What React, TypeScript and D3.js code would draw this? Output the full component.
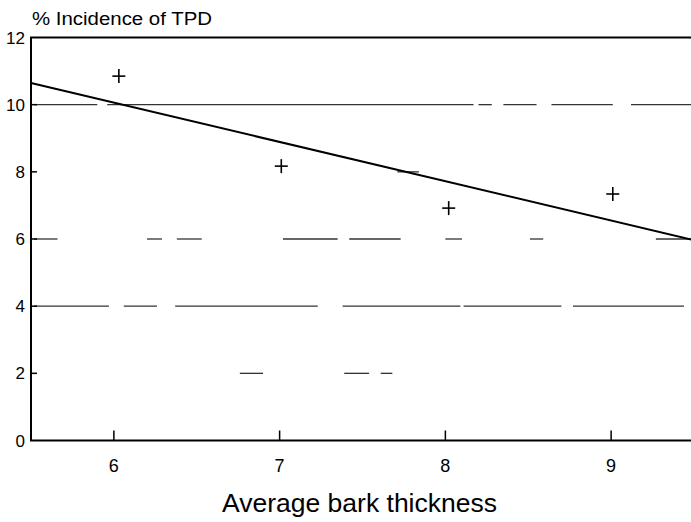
import React from "react";
import * as d3 from "d3";

// ---- data ----
const barkThickness = [6.03, 7.01, 8.02, 9.01];
const incidence = [10.85, 8.17, 6.92, 7.34];
const fitSlope = -1.17;
const fitIntercept = 17.08;
const xTicks = [6, 7, 8, 9];
const yTicks = [0, 2, 4, 6, 8, 10, 12];
// visible pieces of the (degraded) horizontal gridlines, in data units
const gridLevels = [10, 8, 6, 4, 2];
const gridPieces = [
  [[5.52, 5.9], [5.96, 8.17], [8.2, 8.28], [8.35, 8.55], [8.64, 9.01], [9.12, 9.5]],
  [[7.71, 7.84]],
  [[5.52, 5.66], [6.2, 6.29], [6.38, 6.53], [7.02, 7.35], [7.42, 7.73], [8.0, 8.1], [8.51, 8.59], [9.27, 9.5]],
  [[5.52, 5.97], [6.06, 6.26], [6.37, 7.23], [7.38, 8.09], [8.11, 8.7], [8.77, 9.44]],
  [[6.76, 6.9], [7.39, 7.54], [7.61, 7.68]],
];
const yTitle = "% Incidence of TPD";
const xTitle = "Average bark thickness";

const W = 691;
const H = 522;
const FONT = "'Liberation Sans', Arial, sans-serif";

export default function App() {
  const x = d3.scaleLinear().domain([5.5, 9.5]).range([31, 694]);
  const y = d3.scaleLinear().domain([0, 12]).range([440.5, 37.5]);
  const [x0, x1] = x.domain();
  const fit = d3
    .line<number>()
    .x((d) => x(d))
    .y((d) => y(fitIntercept + fitSlope * d));

  return (
    <svg
      width={W}
      height={H}
      style={{ position: "absolute", left: 0, top: 0, background: "#fff" }}
      fontFamily={FONT}
    >
      {/* gridline fragments */}
      {gridLevels.map((lv, i) =>
        gridPieces[i].map((p, j) => (
          <line
            key={`g${i}-${j}`}
            x1={x(p[0])}
            x2={x(p[1])}
            y1={y(lv)}
            y2={y(lv)}
            stroke="#333"
            strokeWidth={1.3}
          />
        ))
      )}

      {/* frame: left axis, bottom axis, top line */}
      <line x1={x(x0)} x2={x(x0)} y1={y(12)} y2={y(0)} stroke="#000" strokeWidth={2} />
      <line x1={x(x0) - 1} x2={W} y1={y(0)} y2={y(0)} stroke="#000" strokeWidth={2} />
      <line x1={x(x0) - 1} x2={W} y1={y(12)} y2={y(12)} stroke="#000" strokeWidth={2} />

      {/* y ticks */}
      {yTicks.map((t) => (
        <g key={`yt${t}`}>
          {t > 0 && t < 12 && (
            <line x1={x(x0)} x2={x(x0) + 6} y1={y(t)} y2={y(t)} stroke="#000" strokeWidth={1.5} />
          )}
          <text
            x={x(x0) - 6}
            y={y(t)}
            dy="0.36em"
            textAnchor="end"
            fontSize={17}
            fill="#000"
          >
            {t}
          </text>
        </g>
      ))}

      {/* x ticks */}
      {xTicks.map((t) => (
        <g key={`xt${t}`}>
          <line x1={x(t)} x2={x(t)} y1={y(0)} y2={y(0) - 10} stroke="#000" strokeWidth={1.5} />
          <text x={x(t)} y={y(0) + 31} textAnchor="middle" fontSize={18} fill="#000">
            {t}
          </text>
        </g>
      ))}

      {/* fitted line */}
      <path d={fit([x0, x1]) ?? ""} fill="none" stroke="#000" strokeWidth={2} />

      {/* points */}
      {barkThickness.map((bx, i) => {
        const cx = x(bx);
        const cy = y(incidence[i]);
        return (
          <g key={`p${i}`} stroke="#000" strokeWidth={1.6}>
            <line x1={cx - 6.5} x2={cx + 6.5} y1={cy} y2={cy} />
            <line x1={cx} x2={cx} y1={cy - 7} y2={cy + 7} />
          </g>
        );
      })}

      {/* titles */}
      <text x={32} y={25} fontSize={17.5} fill="#000" textLength={180} lengthAdjust="spacingAndGlyphs">
        {yTitle}
      </text>
      <text x={222} y={512} fontSize={25} fill="#000" textLength={275} lengthAdjust="spacingAndGlyphs">
        {xTitle}
      </text>
    </svg>
  );
}
